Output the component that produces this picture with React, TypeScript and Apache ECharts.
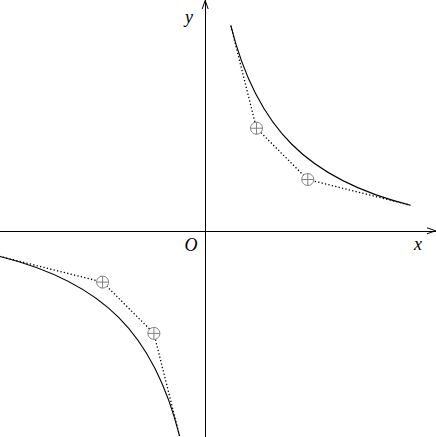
import { useEffect, useRef } from "react";
import * as echarts from "echarts";

// control points of the two Bezier branches (x, y in axis units)
const upperX = [0.5, 1, 2, 4];
const upperY = [4, 2, 1, 0.5];
const lowerX = [-0.5, -1, -2, -4];
const lowerY = [-4, -2, -1, -0.5];

// the inner control points are marked with ⊕
const markX = [1, 2, -1, -2];
const markY = [2, 1, -2, -1];

const xMin = -4;
const xMax = 4.5;
const yMin = -4.02;
const yMax = 4.5;

const pairs = (xs: number[], ys: number[]) => xs.map((x, i) => [x, ys[i]]);
const flat = (xs: number[], ys: number[]) => xs.flatMap((x, i) => [x, ys[i]]);

const App = () => {
  const chartRef = useRef<HTMLDivElement>(null);

  useEffect(() => {
    const chart = echarts.init(chartRef.current, null, { renderer: "svg" });

    const labelStyle = {
      fontFamily: "Liberation Serif",
      fontStyle: "italic",
      fontSize: 18,
      fill: "#000",
      align: "center",
      verticalAlign: "middle",
    };

    const dotted = { color: "#000", width: 1.3, type: [1.3, 2.2] };

    const option: any = {
      animation: false,
      grid: { left: 0, right: 0, top: 0, bottom: 0 },
      xAxis: {
        type: "value",
        min: xMin,
        max: xMax,
        axisLine: { show: true, onZero: true, lineStyle: { color: "#000", width: 1 } },
        axisTick: { show: false },
        axisLabel: { show: false },
        splitLine: { show: false },
      },
      yAxis: {
        type: "value",
        min: yMin,
        max: yMax,
        axisLine: { show: true, onZero: true, lineStyle: { color: "#000", width: 1 } },
        axisTick: { show: false },
        axisLabel: { show: false },
        splitLine: { show: false },
      },
      graphic: [
        { type: "text", x: 189, y: 17, style: { ...labelStyle, text: "y" } },
        { type: "text", x: 191, y: 245, style: { ...labelStyle, text: "O" } },
        { type: "text", x: 418, y: 244, style: { ...labelStyle, text: "x" } },
      ],
      series: [
        {
          type: "line",
          data: pairs(upperX, upperY),
          symbol: "none",
          silent: true,
          lineStyle: dotted,
        },
        {
          type: "line",
          data: pairs(lowerX, lowerY),
          symbol: "none",
          silent: true,
          lineStyle: dotted,
        },
        {
          // Bezier curves through the control points
          type: "custom",
          clip: false,
          silent: true,
          data: [flat(upperX, upperY), flat(lowerX, lowerY)],
          renderItem: (params, api) => {
            const p0 = api.coord([api.value(0), api.value(1)]);
            const p1 = api.coord([api.value(2), api.value(3)]);
            const p2 = api.coord([api.value(4), api.value(5)]);
            const p3 = api.coord([api.value(6), api.value(7)]);
            return {
              type: "bezierCurve",
              shape: {
                x1: p0[0], y1: p0[1],
                cpx1: p1[0], cpy1: p1[1],
                cpx2: p2[0], cpy2: p2[1],
                x2: p3[0], y2: p3[1],
              },
              style: { stroke: "#000", lineWidth: 1.1, fill: "none" },
            };
          },
        },
        {
          // ⊕ markers
          type: "custom",
          clip: false,
          silent: true,
          data: pairs(markX, markY),
          renderItem: (params, api) => {
            const p = api.coord([api.value(0), api.value(1)]);
            const r = 6;
            const st = { stroke: "#808080", lineWidth: 1, fill: "none" };
            return {
              type: "group",
              children: [
                { type: "circle", shape: { cx: p[0], cy: p[1], r }, style: { ...st, fill: "#fff" } },
                { type: "line", shape: { x1: p[0] - r, y1: p[1], x2: p[0] + r, y2: p[1] }, style: st },
                { type: "line", shape: { x1: p[0], y1: p[1] - r, x2: p[0], y2: p[1] + r }, style: st },
              ],
            };
          },
          z: 5,
        },
        {
          // arrow heads at the axis ends
          type: "custom",
          clip: false,
          silent: true,
          data: [[xMax, 0, 0], [0, yMax, 1]],
          renderItem: (params, api) => {
            const p = api.coord([api.value(0), api.value(1)]);
            const vertical = api.value(2) === 1;
            const pts = vertical
              ? [[p[0] - 3, p[1] + 9], [p[0], p[1] + 0.5], [p[0] + 3, p[1] + 9]]
              : [[p[0] - 9, p[1] - 3], [p[0] - 0.5, p[1]], [p[0] - 9, p[1] + 3]];
            return {
              type: "polyline",
              shape: { points: pts },
              style: { stroke: "#000", lineWidth: 1, fill: "none" },
            };
          },
        },
      ],
    };

    chart.setOption(option);

    return () => {
      chart.dispose();
    };
  }, []);

  return (
    <div
      ref={chartRef}
      style={{ position: "absolute", left: 0, top: 0, width: "436px", height: "437px" }}
    />
  );
};

export default App;
